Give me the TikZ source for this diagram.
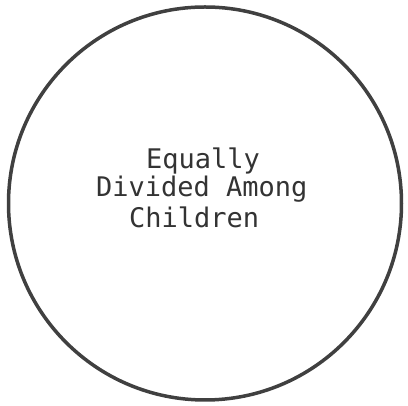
\documentclass[tikz,border=0pt]{standalone}
\usepackage{fontspec}
\setmonofont{DejaVu Sans Mono}
\begin{document}
\begin{tikzpicture}[x=1pt,y=1pt,line cap=round,line join=round]
  \useasboundingbox (0,0) rectangle (408,406);
  \tikzset{txt/.style={anchor=base west,inner sep=0pt,text=black!80,font=\ttfamily\fontsize{27}{30}\selectfont}}
  \draw[line width=3.5pt,black!75] (205,202.5) circle (196.5);
  \node[txt] (eq) at (146,237) {Equally};
  \node[txt] (div) at (96,209) {Divided Among};
  \node[txt] (ch) at (129,178) {Children};
\end{tikzpicture}
\end{document}
